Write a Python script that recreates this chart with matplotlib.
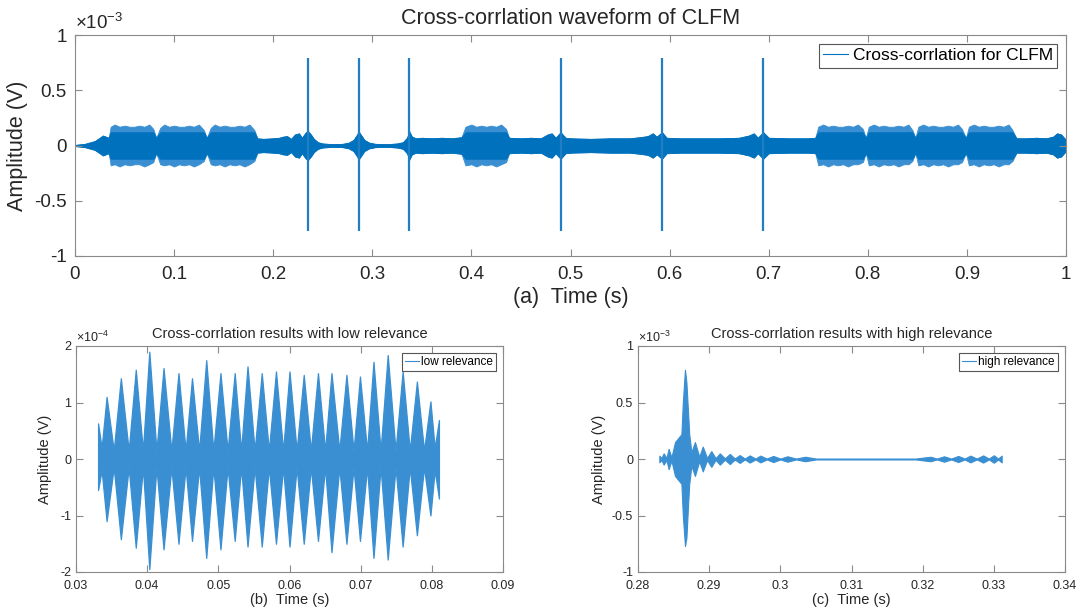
import numpy as np
import matplotlib.pyplot as plt
from matplotlib.lines import Line2D
from matplotlib.ticker import FuncFormatter

plt.rcParams['font.family'] = ['Liberation Sans', 'DejaVu Sans']
plt.rcParams['mathtext.fontset'] = 'custom'
plt.rcParams['mathtext.rm'] = 'Liberation Sans'
plt.rcParams['mathtext.it'] = 'Liberation Sans'
plt.rcParams['axes.unicode_minus'] = False

# ---- (a) envelope of the full cross-correlation, amplitude in 1e-3 V ----
a_t = [0.000, 0.010, 0.020, 0.025, 0.028, 0.031, 0.034,
       0.036, 0.040, 0.045, 0.050, 0.055, 0.060, 0.065, 0.070, 0.075, 0.079, 0.082,
       0.086, 0.090, 0.095, 0.100, 0.105, 0.110, 0.115, 0.120, 0.125, 0.130, 0.133,
       0.137, 0.141, 0.146, 0.151, 0.156, 0.161, 0.166, 0.171, 0.176, 0.181, 0.184,
       0.190, 0.200, 0.206, 0.210, 0.214, 0.218, 0.222, 0.226, 0.229, 0.233, 0.2355,
       0.238, 0.241, 0.245, 0.250, 0.260, 0.270, 0.276, 0.281, 0.284, 0.2863, 0.289,
       0.292, 0.297, 0.303, 0.315, 0.325, 0.331, 0.335, 0.3374, 0.340, 0.344, 0.350,
       0.360, 0.370, 0.380, 0.390,
       0.394, 0.400, 0.405, 0.410, 0.415, 0.420, 0.425, 0.430, 0.435, 0.438,
       0.450, 0.460, 0.470, 0.477, 0.481, 0.485, 0.490, 0.495, 0.500, 0.520, 0.540,
       0.560, 0.570, 0.578, 0.583, 0.587, 0.5923, 0.597, 0.610, 0.630, 0.650, 0.670,
       0.680, 0.685, 0.689, 0.6944, 0.700, 0.720, 0.740, 0.747,
       0.750, 0.755, 0.760, 0.765, 0.770, 0.775, 0.780, 0.785, 0.790, 0.795, 0.798,
       0.801, 0.806, 0.811, 0.816, 0.821, 0.826, 0.831, 0.836, 0.841, 0.845, 0.848,
       0.851, 0.856, 0.861, 0.866, 0.871, 0.876, 0.881, 0.886, 0.891, 0.895, 0.899,
       0.902, 0.907, 0.912, 0.917, 0.922, 0.927, 0.932, 0.937, 0.942, 0.946, 0.950,
       0.960, 0.970, 0.980, 0.987, 0.991, 0.995, 0.999, 1.000]
a_top = [0.005, 0.015, 0.04, 0.07, 0.09, 0.08, 0.07,
         0.17, 0.19, 0.17, 0.18, 0.17, 0.17, 0.18, 0.17, 0.19, 0.15, 0.07,
         0.16, 0.19, 0.17, 0.18, 0.17, 0.17, 0.18, 0.17, 0.19, 0.14, 0.07,
         0.16, 0.19, 0.17, 0.18, 0.17, 0.17, 0.18, 0.17, 0.19, 0.14, 0.065,
         0.06, 0.065, 0.07, 0.08, 0.085, 0.06, 0.10, 0.11, 0.07, 0.12, 0.13,
         0.10, 0.06, 0.03, 0.018, 0.012, 0.015, 0.025, 0.05, 0.09, 0.13, 0.09,
         0.05, 0.025, 0.015, 0.012, 0.018, 0.03, 0.07, 0.13, 0.08, 0.065, 0.07,
         0.065, 0.07, 0.065, 0.075,
         0.17, 0.19, 0.17, 0.18, 0.17, 0.18, 0.17, 0.19, 0.15, 0.07,
         0.065, 0.07, 0.065, 0.10, 0.11, 0.07, 0.12, 0.07, 0.065, 0.06, 0.065,
         0.065, 0.075, 0.085, 0.11, 0.08, 0.12, 0.07, 0.065, 0.065, 0.065, 0.07,
         0.09, 0.11, 0.07, 0.12, 0.07, 0.065, 0.065, 0.07,
         0.17, 0.19, 0.17, 0.18, 0.17, 0.17, 0.18, 0.17, 0.19, 0.15, 0.07,
         0.17, 0.19, 0.17, 0.18, 0.17, 0.17, 0.18, 0.17, 0.19, 0.14, 0.07,
         0.17, 0.19, 0.17, 0.18, 0.17, 0.17, 0.18, 0.17, 0.19, 0.15, 0.07,
         0.17, 0.19, 0.17, 0.18, 0.17, 0.17, 0.18, 0.17, 0.19, 0.14, 0.065,
         0.065, 0.07, 0.065, 0.08, 0.11, 0.10, 0.06, 0.02]
a_bot = [-0.005, -0.015, -0.04, -0.07, -0.09, -0.08, -0.07,
         -0.18, -0.17, -0.19, -0.17, -0.18, -0.17, -0.17, -0.19, -0.17, -0.15, -0.07,
         -0.17, -0.18, -0.17, -0.19, -0.17, -0.18, -0.17, -0.19, -0.17, -0.14, -0.07,
         -0.17, -0.18, -0.17, -0.19, -0.17, -0.18, -0.17, -0.19, -0.17, -0.14, -0.065,
         -0.06, -0.065, -0.07, -0.08, -0.085, -0.06, -0.10, -0.11, -0.07, -0.12, -0.13,
         -0.10, -0.06, -0.03, -0.018, -0.012, -0.015, -0.025, -0.05, -0.09, -0.13, -0.09,
         -0.05, -0.025, -0.015, -0.012, -0.018, -0.03, -0.07, -0.13, -0.08, -0.065, -0.07,
         -0.065, -0.07, -0.065, -0.075,
         -0.18, -0.17, -0.19, -0.17, -0.18, -0.17, -0.19, -0.17, -0.15, -0.07,
         -0.065, -0.07, -0.065, -0.10, -0.11, -0.07, -0.12, -0.07, -0.065, -0.06, -0.065,
         -0.065, -0.075, -0.085, -0.11, -0.08, -0.12, -0.07, -0.065, -0.065, -0.065, -0.07,
         -0.09, -0.11, -0.07, -0.12, -0.07, -0.065, -0.065, -0.07,
         -0.18, -0.17, -0.19, -0.17, -0.18, -0.17, -0.19, -0.17, -0.17, -0.15, -0.07,
         -0.18, -0.17, -0.19, -0.17, -0.18, -0.17, -0.19, -0.17, -0.17, -0.14, -0.07,
         -0.18, -0.17, -0.19, -0.17, -0.18, -0.17, -0.19, -0.17, -0.17, -0.15, -0.07,
         -0.18, -0.17, -0.19, -0.17, -0.18, -0.17, -0.19, -0.17, -0.17, -0.14, -0.065,
         -0.065, -0.07, -0.065, -0.08, -0.11, -0.10, -0.06, -0.02]
a_spike_t = [0.2355, 0.2863, 0.3374, 0.4902, 0.5923, 0.6944]
a_spike_top = [0.79, 0.79, 0.79, 0.79, 0.79, 0.79]
a_spike_bot = [-0.77, -0.77, -0.77, -0.77, -0.77, -0.77]
a_core = 0.12  # solid dark band inside the bursts

# ---- (b) low relevance, amplitude in 1e-4 V ----
b_peak_t = [0.0331, 0.0343, 0.0363, 0.0384, 0.0403, 0.0423, 0.0444, 0.0463, 0.0483,
            0.0503, 0.0523, 0.0541, 0.0561, 0.0581, 0.0600, 0.0620, 0.0640, 0.0659,
            0.0680, 0.0699, 0.0718, 0.0738, 0.0759, 0.0779, 0.0798, 0.0810]
b_peak_top = [0.63, 1.10, 1.43, 1.58, 1.90, 1.61, 1.52, 1.43, 1.75, 1.52, 1.52, 1.64, 1.52,
              1.55, 1.55, 1.49, 1.52, 1.52, 1.49, 1.46, 1.72, 1.84, 1.55, 1.37, 1.02, 0.69]
b_peak_bot = [-0.55, -1.10, -1.42, -1.57, -1.95, -1.60, -1.50, -1.45, -1.75, -1.60, -1.45,
              -1.55, -1.55, -1.50, -1.55, -1.50, -1.45, -1.65, -1.50, -1.45, -1.75, -1.78,
              -1.55, -1.35, -1.00, -0.70]
b_neck_t = [0.0336, 0.0353, 0.0374, 0.0394, 0.0413, 0.0434, 0.0454, 0.0473, 0.0493,
            0.0513, 0.0532, 0.0551, 0.0571, 0.0591, 0.0610, 0.0630, 0.0650, 0.0670,
            0.0690, 0.0709, 0.0728, 0.0749, 0.0769, 0.0789, 0.0804]
b_neck_amp = [0.20, 0.15, 0.15, 0.15, 0.15, 0.15, 0.15, 0.15, 0.15, 0.15, 0.15, 0.15, 0.15,
              0.15, 0.15, 0.15, 0.15, 0.15, 0.15, 0.15, 0.15, 0.15, 0.15, 0.15, 0.20]

# ---- (c) high relevance, amplitude in 1e-3 V ----
c_peak_t = [0.2830, 0.2836, 0.2843, 0.2852, 0.2861, 0.2863, 0.2865, 0.2866, 0.2868, 0.2870,
            0.2872, 0.2880, 0.2891, 0.2903, 0.2915, 0.2929, 0.2943, 0.2957, 0.2972, 0.2990,
            0.3010, 0.3035, 0.3211, 0.3230, 0.3250, 0.3267, 0.3285, 0.3300, 0.3311]
c_peak_top = [0.03, 0.05, 0.09, 0.15, 0.22, 0.50, 0.70, 0.79, 0.68, 0.45, 0.22, 0.15, 0.11,
              0.07, 0.05, 0.045, 0.035, 0.032, 0.03, 0.027, 0.024, 0.02, 0.02, 0.024, 0.027,
              0.03, 0.032, 0.033, 0.03]
c_peak_bot = [-0.03, -0.05, -0.09, -0.15, -0.22, -0.50, -0.68, -0.77, -0.70, -0.45, -0.22,
              -0.15, -0.11, -0.07, -0.05, -0.045, -0.035, -0.032, -0.03, -0.027, -0.024,
              -0.02, -0.02, -0.024, -0.027, -0.03, -0.032, -0.033, -0.03]
c_neck_t = [0.2833, 0.2840, 0.2847, 0.2875, 0.2886, 0.2897, 0.2909, 0.2922, 0.2936,
            0.2950, 0.2965, 0.2981, 0.3000, 0.3022, 0.3050, 0.3190, 0.3220, 0.3240,
            0.3259, 0.3276, 0.3293, 0.3306]
c_neck_amp = [0.008, 0.01, 0.015, 0.06, 0.02, 0.01, 0.008, 0.006, 0.005, 0.004, 0.004,
              0.004, 0.004, 0.004, 0.004, 0.004, 0.004, 0.004, 0.004, 0.004, 0.004, 0.004]

DARK = '#0072BD'
LIGHT = '#3a8fd2'
FRAME = '#8a8a8a'
TXT = '#262626'


def merge(peak_t, peak_top, peak_bot, neck_t, neck_amp):
    t = np.concatenate([peak_t, neck_t])
    top = np.concatenate([peak_top, neck_amp])
    bot = np.concatenate([peak_bot, -np.asarray(neck_amp)])
    o = np.argsort(t)
    return t[o], top[o], bot[o]


def style(ax, fs, scale, xlim, ylim, xticks, yticks, xpad):
    for s in ax.spines.values():
        s.set_color(FRAME)
        s.set_linewidth(0.8)
    ax.tick_params(direction='in', top=True, right=True, colors=FRAME,
                   labelcolor=TXT, labelsize=fs, length=5, width=0.8)
    ax.tick_params(axis='x', pad=xpad)
    ax.set_xlim(*xlim)
    ax.set_ylim(*ylim)
    ax.set_xticks(xticks)
    ax.set_yticks(yticks)
    ax.xaxis.set_major_formatter(FuncFormatter(lambda v, p: '%g' % round(v, 6)))
    ax.yaxis.set_major_formatter(FuncFormatter(lambda v, p: '%g' % round(v / scale, 6)))


fig = plt.figure(figsize=(10.8, 6.14), dpi=100)
ax_a = fig.add_axes([75 / 1080, 1 - 256 / 614, 991 / 1080, 221 / 614])
ax_b = fig.add_axes([76 / 1080, 1 - 572 / 614, 427 / 1080, 226 / 614])
ax_c = fig.add_axes([638 / 1080, 1 - 572 / 614, 427 / 1080, 226 / 614])

# (a)
t = np.array(a_t)
top = np.array(a_top) * 1e-3
bot = np.array(a_bot) * 1e-3
ax_a.fill_between(t, bot, top, color=LIGHT, lw=0.6)
ax_a.fill_between(t, np.maximum(bot, -a_core * 1e-3), np.minimum(top, a_core * 1e-3),
                  color=DARK, lw=0.6)
ax_a.vlines(a_spike_t, np.array(a_spike_bot) * 1e-3, np.array(a_spike_top) * 1e-3,
            color='#1f7ec6', lw=1.6)
style(ax_a, 13.5, 1e-3, (0, 1), (-1e-3, 1e-3), np.arange(0, 1.01, 0.1),
      [-1e-3, -0.5e-3, 0, 0.5e-3, 1e-3], 7)
ax_a.tick_params(axis='y', pad=6)
ax_a.set_title('Cross-corrlation waveform of CLFM', fontsize=15.5, color=TXT, pad=8)
ax_a.set_xlabel('(a)  Time (s)', fontsize=15.5, color=TXT, labelpad=3)
ax_a.set_ylabel('Amplitude (V)', fontsize=15.5, color=TXT, labelpad=4)
ax_a.text(0.0, 1.01, r'×10$^{-3}$', transform=ax_a.transAxes, fontsize=13.5,
          color=TXT, ha='left', va='bottom')
ax_a.legend([Line2D([], [], color=DARK, lw=0.8)], ['Cross-corrlation for CLFM'],
            loc='upper right', fontsize=12.5, fancybox=False, framealpha=1,
            edgecolor='#555555', handlelength=1.4, handletextpad=0.3,
            borderpad=0.25, borderaxespad=0.5).get_frame().set_linewidth(0.8)

# (b)
t, top, bot = merge(b_peak_t, b_peak_top, b_peak_bot, b_neck_t, b_neck_amp)
ax_b.fill_between(t, bot * 1e-4, top * 1e-4, color=LIGHT, lw=0.9)
style(ax_b, 9, 1e-4, (0.03, 0.09), (-2e-4, 2e-4), np.arange(0.03, 0.0901, 0.01),
      [-2e-4, -1e-4, 0, 1e-4, 2e-4], 5.5)
ax_b.set_title('Cross-corrlation results with low relevance', fontsize=10.5,
               color=TXT, pad=6)
ax_b.set_xlabel('(b)  Time (s)', fontsize=10.5, color=TXT, labelpad=1)
ax_b.set_ylabel('Amplitude (V)', fontsize=10.5, color=TXT, labelpad=6)
ax_b.text(0.0, 1.005, r'×10$^{-4}$', transform=ax_b.transAxes, fontsize=9,
          color=TXT, ha='left', va='bottom')
ax_b.legend([Line2D([], [], color=LIGHT, lw=0.8)], ['low relevance'],
            loc='upper right', fontsize=8.5, fancybox=False, framealpha=1,
            edgecolor='#555555', handlelength=1.2, handletextpad=0.2,
            borderpad=0.25, borderaxespad=0.6).get_frame().set_linewidth(0.8)

# (c)
t, top, bot = merge(c_peak_t, c_peak_top, c_peak_bot, c_neck_t, c_neck_amp)
ax_c.fill_between(t, bot * 1e-3, top * 1e-3, color=LIGHT, lw=0.8)
style(ax_c, 9, 1e-3, (0.28, 0.34), (-1e-3, 1e-3), np.arange(0.28, 0.3401, 0.01),
      [-1e-3, -0.5e-3, 0, 0.5e-3, 1e-3], 5.5)
ax_c.set_title('Cross-corrlation results with high relevance', fontsize=10.5,
               color=TXT, pad=6)
ax_c.set_xlabel('(c)  Time (s)', fontsize=10.5, color=TXT, labelpad=1)
ax_c.set_ylabel('Amplitude (V)', fontsize=10.5, color=TXT, labelpad=4)
ax_c.text(0.0, 1.005, r'×10$^{-3}$', transform=ax_c.transAxes, fontsize=9,
          color=TXT, ha='left', va='bottom')
ax_c.legend([Line2D([], [], color=LIGHT, lw=0.8)], ['high relevance'],
            loc='upper right', fontsize=8.5, fancybox=False, framealpha=1,
            edgecolor='#555555', handlelength=1.2, handletextpad=0.2,
            borderpad=0.25, borderaxespad=0.6).get_frame().set_linewidth(0.8)

fig.savefig('out.png', dpi=100)
